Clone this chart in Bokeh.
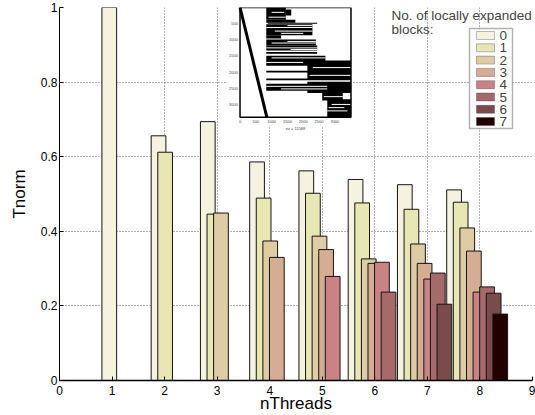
from bokeh.plotting import figure
from bokeh.models import Range1d, Label, FixedTicker, BoxAnnotation
from bokeh.embed import file_html
from bokeh.resources import INLINE
from bokeh.core.properties import value

FONT = "Liberation Sans"

# ---------------- data ----------------
n_threads = [1, 2, 3, 4, 5, 6, 7, 8]
block_labels = ["0", "1", "2", "3", "4", "5", "6", "7"]
# Tnorm for each number of locally expanded blocks (series k exists for nThreads >= k+1)
tnorm_0 = [1.000, 0.656, 0.694, 0.586, 0.562, 0.539, 0.525, 0.511]
tnorm_1 = [0.612, 0.446, 0.489, 0.502, 0.476, 0.459, 0.478]
tnorm_2 = [0.449, 0.374, 0.387, 0.326, 0.366, 0.409]
tnorm_3 = [0.330, 0.351, 0.314, 0.314, 0.347]
tnorm_4 = [0.279, 0.317, 0.272, 0.237]
tnorm_5 = [0.237, 0.288, 0.251]
tnorm_6 = [0.2045, 0.234]
tnorm_7 = [0.178]
series = [tnorm_0, tnorm_1, tnorm_2, tnorm_3, tnorm_4, tnorm_5, tnorm_6, tnorm_7]

x_ticks = [0, 1, 2, 3, 4, 5, 6, 7, 8, 9]
y_ticks = [0, 0.2, 0.4, 0.6, 0.8, 1]
y_tick_labels = ["0", "0.2", "0.4", "0.6", "0.8", "1"]

colors = ["#F5F3E0", "#E8E6B3", "#DECCA4", "#D4AD93", "#C98384", "#A76A6A", "#7A4B4B", "#220000"]

legend_title_1 = "No. of locally expanded"
legend_title_2 = "blocks:"

# inset spy-plot (sparsity pattern), in matrix units: (row0, row1, col0, col1)
spy_size_cols = 3510
spy_size_rows = 3400
spy_blocks = [
    (0, 380, 830, 1450), (60, 250, 1450, 1620), (380, 470, 830, 1750),
    (470, 500, 880, 2440), (520, 860, 830, 2290), (860, 960, 830, 1300),
    (990, 1180, 830, 2400), (1180, 1330, 830, 2440), (1380, 1430, 830, 2440),
    (1490, 1800, 830, 2700), (1640, 2220, 2130, 3510), (1960, 2010, 830, 3510),
    (2200, 2250, 830, 3510), (2360, 2580, 830, 2760), (2300, 2650, 2130, 3510),
    (2620, 2880, 2600, 3250), (2840, 3390, 2760, 3510),
]
# white streaks inside the pattern: (row, col0, col1)
spy_gaps = [
    (620, 830, 2290), (730, 1100, 2290), (1100, 1000, 2400), (1250, 830, 2440),
    (1560, 1000, 2700), (1700, 830, 2000), (2440, 830, 2760), (2520, 1300, 2760),
    (3000, 2900, 3510), (3200, 2760, 3400), (300, 900, 1450), (150, 1000, 1400),
    (560, 1500, 2290), (800, 1300, 2000), (1050, 1500, 2400), (1860, 2300, 3510),
    (2100, 2200, 3510), (2760, 2650, 3250), (3100, 2800, 3300), (1300, 1600, 2440),
]
spy_diag_cols = [0, 850]
spy_diag_rows = [0, 3400]
spy_xticks = [0, 500, 1000, 1500, 2000, 2500, 3000]
spy_yticks = [500, 1000, 1500, 2000, 2500, 3000]
spy_xlabel = "nz = 11588"

# ---------------- figure ----------------
p = figure(width=535, height=415, output_backend="svg", toolbar_location=None,
           x_range=Range1d(0, 9), y_range=Range1d(0, 1),
           min_border_left=59, min_border_right=3, min_border_top=7, min_border_bottom=35)
p.outline_line_color = None
p.background_fill_color = "white"

for g in (p.xgrid, p.ygrid):
    g.grid_line_color = "#666666"
    g.grid_line_dash = "1 2"
    g.grid_line_width = 1
p.xgrid.ticker = FixedTicker(ticks=x_ticks)
p.ygrid.ticker = FixedTicker(ticks=y_ticks)

p.xaxis.ticker = FixedTicker(ticks=x_ticks)
p.yaxis.ticker = FixedTicker(ticks=y_ticks)
p.yaxis.major_label_overrides = {t: l for t, l in zip(y_ticks, y_tick_labels)}
for ax in (p.xaxis, p.yaxis):
    ax.major_tick_in = 4
    ax.major_tick_out = 0
    ax.minor_tick_line_color = None
    ax.major_label_text_font = FONT
    ax.major_label_text_font_size = "12px"
    ax.major_label_text_color = "black"
    ax.axis_label_text_font = FONT
    ax.axis_label_text_font_size = "17px"
    ax.axis_label_text_font_style = "normal"
    ax.axis_label_text_color = "black"
    ax.axis_line_color = "black"
    ax.major_tick_line_color = "black"
p.xaxis.axis_line_width = 1.5
p.xaxis.axis_label = "nThreads"
p.yaxis.axis_label = "Tnorm"
p.xaxis.major_label_standoff = 5
p.yaxis.major_label_standoff = 2
p.xaxis.axis_label_standoff = -4
p.yaxis.axis_label_standoff = 9

# ---------------- inset (spy plot) ----------------
ins_x0, ins_x1 = 3.435, 5.546
ins_ytop, ins_ybot = 1.0, 0.7055

def ix(c):
    return ins_x0 + c / spy_size_cols * (ins_x1 - ins_x0)

def iy(r):
    return ins_ytop - r / spy_size_rows * (ins_ytop - ins_ybot)

p.quad(left=[3.19], right=[5.565], top=[1.0], bottom=[0.68],
       fill_color="white", line_color=None)
p.quad(left=[ix(b[2]) for b in spy_blocks], right=[ix(b[3]) for b in spy_blocks],
       top=[iy(b[0]) for b in spy_blocks], bottom=[iy(b[1]) for b in spy_blocks],
       fill_color="black", line_color=None)
p.segment(x0=[ix(g[1]) for g in spy_gaps], x1=[ix(g[2]) for g in spy_gaps],
          y0=[iy(g[0]) for g in spy_gaps], y1=[iy(g[0]) for g in spy_gaps],
          line_color="white", line_width=1)
p.line(x=[ix(c) for c in spy_diag_cols], y=[iy(r) for r in spy_diag_rows],
       line_color="black", line_width=3)
p.quad(left=[ix(0)], right=[ix(spy_size_cols)], top=[iy(0)], bottom=[iy(spy_size_rows)],
       fill_color=None, line_color="black", line_width=1.5)
p.text(x=[ix(c) for c in spy_xticks], y=[iy(spy_size_rows) - 0.008] * len(spy_xticks),
       text=[str(c) for c in spy_xticks], text_font=value(FONT), text_font_size="4px",
       text_align="center", text_baseline="top", text_color="#444444")
p.text(x=[ix(0) - 0.04] * len(spy_yticks), y=[iy(r) for r in spy_yticks],
       text=[str(r) for r in spy_yticks], text_font=value(FONT), text_font_size="4px",
       text_align="right", text_baseline="middle", text_color="#444444")
p.text(x=[ix(spy_size_cols / 2)], y=[iy(spy_size_rows) - 0.022], text=[spy_xlabel],
       text_font=value(FONT), text_font_size="4px", text_align="center",
       text_baseline="top", text_color="#444444")

# ---------------- bars ----------------
step = 0.1255
shift = -0.053
for k, vals in enumerate(series):
    groups = n_threads[k:]
    xs = [n + (k - (n - 1) / 2) * step + shift for n in groups]
    p.vbar(x=xs, top=vals, bottom=0, width=0.28, fill_color=colors[k],
           line_color="#151515", line_width=1)

# ---------------- legend (screen units: from frame left / frame bottom) ----------------
lg_left, lg_right, lg_top, lg_bottom = 410, 453, 352, 252
item_h = 12.3
sw_left, sw_w, sw_h = 417, 18, 8
first_center = 345

p.add_layout(BoxAnnotation(left=lg_left, right=lg_right, top=lg_top, bottom=lg_bottom,
                           left_units="screen", right_units="screen",
                           top_units="screen", bottom_units="screen",
                           fill_color="white", fill_alpha=1,
                           line_color="black", line_width=1.5, level="annotation"))
for k, lab in enumerate(block_labels):
    cy = first_center - k * item_h
    p.add_layout(BoxAnnotation(left=sw_left, right=sw_left + sw_w,
                               top=cy + sw_h / 2, bottom=cy - sw_h / 2,
                               left_units="screen", right_units="screen",
                               top_units="screen", bottom_units="screen",
                               fill_color=colors[k], fill_alpha=1,
                               line_color="#222222", line_width=1, level="annotation"))
    p.add_layout(Label(x=sw_left + sw_w + 5, y=cy, x_units="screen", y_units="screen",
                       text=lab, text_font=FONT, text_font_size="13.5px",
                       text_align="left", text_baseline="middle", level="annotation"))

p.add_layout(Label(x=332, y=365, x_units="screen", y_units="screen",
                   text=legend_title_1, text_font=FONT, text_font_size="13.5px",
                   text_align="left", text_baseline="middle"))
p.add_layout(Label(x=332, y=351, x_units="screen", y_units="screen",
                   text=legend_title_2, text_font=FONT, text_font_size="13.5px",
                   text_align="left", text_baseline="middle"))

open("out.html", "w").write(file_html(p, INLINE))
